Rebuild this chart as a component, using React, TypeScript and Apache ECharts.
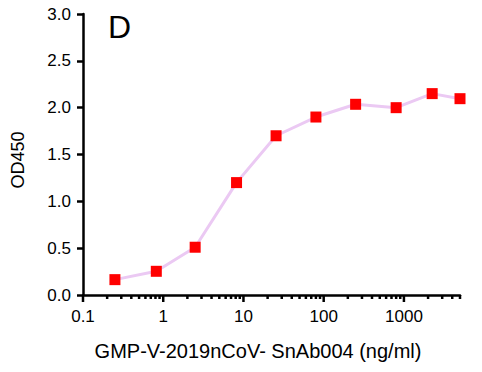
import React, { useEffect, useRef } from "react";
import * as echarts from "echarts";

const concentrations = [0.25, 0.82, 2.5, 8.2, 25.5, 80, 250, 800, 2250, 5000];
const od450 = [0.164, 0.253, 0.51, 1.2, 1.7, 1.9, 2.036, 2.0, 2.15, 2.096];
const xMajorTicks = [0.1, 1, 10, 100, 1000];
const xMajorLabels = ["0.1", "1", "10", "100", "1000"];
const xMinorTicks = [
  0.2, 0.3, 0.4, 0.5, 0.6, 0.7, 0.8, 0.9,
  2, 3, 4, 5, 6, 7, 8, 9,
  20, 30, 40, 50, 60, 70, 80, 90,
  200, 300, 400, 500, 600, 700, 800, 900,
  2000, 3000, 4000, 5000,
];
const panelLabel = "D";
const xTitle = "GMP-V-2019nCoV- SnAb004 (ng/ml)";
const yTitle = "OD450";

const FONT = "'Liberation Sans', Arial, Helvetica, sans-serif";

export default function App() {
  const ref = useRef<HTMLDivElement>(null);
  useEffect(() => {
    if (!ref.current) return;
    const chart = echarts.init(ref.current, undefined, { renderer: "svg" });
    const tickData = [
      ...xMajorTicks.map((v) => [v, 0, 7]),
      ...xMinorTicks.map((v) => [v, 0, 4]),
    ];
    chart.setOption({
      animation: false,
      backgroundColor: "#ffffff",
      textStyle: { fontFamily: FONT },
      grid: { left: 83, right: 22, top: 14, bottom: 77, containLabel: false },
      xAxis: {
        type: "log",
        logBase: 10,
        min: 0.1,
        max: 5000,
        axisLine: { show: true, lineStyle: { color: "#000", width: 2.5 } },
        axisTick: { show: false },
        minorTick: { show: false },
        splitLine: { show: false },
        axisLabel: {
          color: "#000",
          fontSize: 17,
          fontFamily: FONT,
          margin: 13,
          showMaxLabel: true,
          formatter: (v: number) => {
            const e = Math.round(Math.log10(v));
            const idx = xMajorTicks.findIndex((t) => Math.abs(Math.log10(t) - Math.log10(v)) < 1e-6);
            return idx >= 0 ? xMajorLabels[idx] : "";
          },
        },
      },
      yAxis: {
        type: "value",
        min: 0,
        max: 3,
        interval: 0.5,
        axisLine: { show: true, lineStyle: { color: "#000", width: 2.5 } },
        axisTick: { show: true, inside: false, length: 6, lineStyle: { color: "#000", width: 2.5 } },
        splitLine: { show: false },
        axisLabel: {
          color: "#000",
          fontSize: 17,
          fontFamily: FONT,
          margin: 12,
          formatter: (v: number) => v.toFixed(1),
        },
      },
      graphic: [
        {
          type: "text",
          left: 108,
          top: 11,
          style: { text: panelLabel, fontSize: 32, fontFamily: FONT, fill: "#000" },
        },
        {
          type: "text",
          x: 258,
          y: 351,
          style: {
            text: xTitle,
            fontSize: 20,
            fontFamily: FONT,
            fill: "#000",
            textAlign: "center",
            textVerticalAlign: "middle",
          },
        },
        {
          type: "text",
          x: 18,
          y: 160,
          rotation: Math.PI / 2,
          style: {
            text: yTitle,
            fontSize: 18,
            fontFamily: FONT,
            fill: "#000",
            textAlign: "center",
            textVerticalAlign: "middle",
          },
        },
      ],
      series: [
        {
          type: "line",
          data: concentrations.map((c, i) => [c, od450[i]]),
          symbol: "rect",
          symbolSize: 11,
          itemStyle: { color: "#ff0000" },
          lineStyle: { color: "#ebc9f3", width: 3 },
          z: 3,
        },
        {
          type: "custom",
          data: tickData,
          clip: false,
          silent: true,
          z: 5,
          renderItem: (params: any, api: any) => {
            const p = api.coord([api.value(0), 0]);
            const len = api.value(2);
            return {
              type: "line",
              shape: { x1: p[0], y1: p[1], x2: p[0], y2: p[1] + len },
              style: { stroke: "#000", lineWidth: 2.5 },
            };
          },
        },
      ],
    });
    return () => chart.dispose();
  }, []);
  return (
    <div
      ref={ref}
      style={{ position: "fixed", left: 0, top: 0, width: 482, height: 372 }}
    />
  );
}
